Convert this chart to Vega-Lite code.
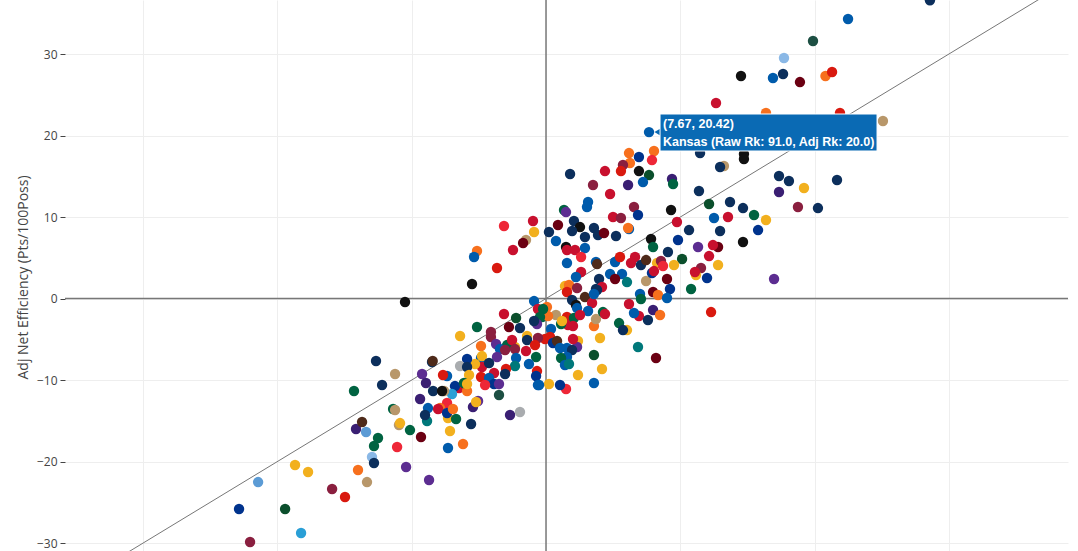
{
  "$schema": "https://vega.github.io/schema/vega-lite/v6.json",
  "description": "Raw vs adjusted net efficiency by team",
  "background": "white",
  "autosize": "none",
  "padding": {"left": 65, "top": 0, "right": 10, "bottom": 0},
  "width": 1003,
  "height": 551,
  "datasets": {
    "zero": [
      {"line": "v", "x": 0, "y": -40}, {"line": "v", "x": 0, "y": 40},
      {"line": "h", "x": -40, "y": 0}, {"line": "h", "x": 40, "y": 0}
    ],
    "diagonal": [{"x": -40, "y": -40}, {"x": 40, "y": 40}],
    "box": [{"x": 8.49, "x2": 24.65, "y": 22.64, "y2": 18.1}],
    "pointer": [{"x": 8.3, "y": 20.42}],
    "callout": [
      {"x": 8.71, "y": 21.4, "label": "(7.67, 20.42)"},
      {"x": 8.71, "y": 19.2, "label": "Kansas (Raw Rk: 91.0, Adj Rk: 20.0)"}
    ],
    "teams": [
      {"x":28.59,"y":36.6,"c":"navy"},{"x":22.49,"y":34.3,"c":"blue"},{"x":19.88,"y":31.6,"c":"dkteal"},{"x":17.72,"y":29.51,"c":"lblue"},{"x":14.52,"y":27.3,"c":"black"},{"x":16.9,"y":27.06,"c":"blue"},{"x":17.65,"y":27.55,"c":"navy"},{"x":18.91,"y":26.56,"c":"dkred"},{"x":20.81,"y":27.3,"c":"orange"},{"x":21.3,"y":27.79,"c":"red"},{"x":12.66,"y":23.99,"c":"crimson"},{"x":16.38,"y":22.76,"c":"orange"},{"x":21.89,"y":22.76,"c":"red"},{"x":25.09,"y":21.78,"c":"tan"},{"x":7.67,"y":20.42,"c":"blue"},
      {"x":8.04,"y":18.1,"c":"orange"},{"x":6.18,"y":17.85,"c":"orange"},{"x":6.92,"y":17.36,"c":"royal"},{"x":6.25,"y":16.63,"c":"orange"},{"x":5.73,"y":16.38,"c":"maroon"},{"x":5.58,"y":15.64,"c":"red"},{"x":4.39,"y":15.64,"c":"crimson"},{"x":7.89,"y":16.99,"c":"scarlet"},{"x":6.92,"y":15.64,"c":"black"},{"x":7.67,"y":15.15,"c":"dkgreen"},{"x":7.22,"y":14.29,"c":"blue"},{"x":6.11,"y":13.93,"c":"indigo"},{"x":4.77,"y":12.82,"c":"crimson"},{"x":9.38,"y":14.66,"c":"indigo"},{"x":9.46,"y":14.05,"c":"green"},{"x":11.47,"y":17.85,"c":"navy"},{"x":13.25,"y":16.26,"c":"tan"},{"x":12.96,"y":16.14,"c":"navy"},{"x":14.74,"y":17.73,"c":"black"},{"x":14.74,"y":17.12,"c":"black"},{"x":11.39,"y":13.19,"c":"navy"},{"x":17.35,"y":15.03,"c":"navy"},{"x":18.09,"y":14.42,"c":"navy"},{"x":17.35,"y":13.07,"c":"indigo"},{"x":19.21,"y":13.56,"c":"gold"},{"x":21.67,"y":14.54,"c":"navy"},{"x":1.79,"y":15.28,"c":"navy"},{"x":3.5,"y":13.93,"c":"maroon"},{"x":3.13,"y":11.84,"c":"blue"},{"x":3.05,"y":11.23,"c":"blue"},{"x":1.34,"y":10.86,"c":"green"},{"x":1.49,"y":10.61,"c":"purple"},{"x":6.55,"y":11.23,"c":"maroon"},{"x":6.85,"y":10.25,"c":"royal"},{"x":4.99,"y":10.0,"c":"crimson"},{"x":5.58,"y":9.88,"c":"maroon"},{"x":2.08,"y":9.51,"c":"navy"},{"x":0.22,"y":8.16,"c":"navy"},{"x":0.89,"y":9.02,"c":"dkred"},{"x":2.53,"y":8.77,"c":"black"},{"x":1.94,"y":8.28,"c":"navy"},{"x":3.57,"y":8.65,"c":"navy"},{"x":2.9,"y":7.55,"c":"navy"},{"x":3.87,"y":7.79,"c":"navy"},{"x":4.32,"y":8.04,"c":"dkred"},{"x":5.21,"y":7.67,"c":"navy"},{"x":6.18,"y":8.53,"c":"blue"},{"x":6.11,"y":8.65,"c":"orange"},{"x":0.74,"y":7.06,"c":"blue"},{"x":1.49,"y":6.32,"c":"black"},{"x":1.56,"y":5.95,"c":"crimson"},{"x":2.16,"y":5.95,"c":"crimson"},{"x":2.9,"y":6.2,"c":"blue"},{"x":2.61,"y":5.09,"c":"scarlet"},{"x":1.56,"y":4.36,"c":"blue"},{"x":3.72,"y":4.48,"c":"blue"},{"x":3.8,"y":4.23,"c":"brown"},{"x":5.14,"y":4.48,"c":"blue"},{"x":5.51,"y":5.09,"c":"red"},{"x":6.63,"y":5.09,"c":"crimson"},{"x":6.33,"y":4.36,"c":"crimson"},{"x":7.07,"y":4.11,"c":"navy"},{"x":7.45,"y":4.72,"c":"brown"},{"x":8.27,"y":4.36,"c":"gold"},{"x":7.82,"y":7.3,"c":"black"},{"x":7.97,"y":6.32,"c":"green"},{"x":2.61,"y":3.25,"c":"crimson"},{"x":2.23,"y":2.64,"c":"blue"},{"x":4.77,"y":3.01,"c":"blue"},{"x":5.66,"y":3.01,"c":"blue"},{"x":3.95,"y":2.39,"c":"navy"},{"x":5.14,"y":2.39,"c":"dkred"},{"x":6.03,"y":2.02,"c":"teal"},{"x":7.45,"y":2.15,"c":"tan"},{"x":7.89,"y":3.13,"c":"royal"},{"x":8.04,"y":3.37,"c":"crimson"},{"x":1.41,"y":1.53,"c":"gold"},{"x":1.71,"y":1.66,"c":"orange"},{"x":1.56,"y":0.8,"c":"red"},{"x":2.31,"y":1.29,"c":"maroon"},{"x":3.72,"y":1.17,"c":"navy"},{"x":4.17,"y":1.41,"c":"crimson"},
      {"x":12.14,"y":11.6,"c":"dkgreen"},{"x":9.31,"y":10.86,"c":"black"},{"x":13.7,"y":11.84,"c":"navy"},{"x":14.67,"y":11.1,"c":"navy"},{"x":15.49,"y":10.25,"c":"green"},{"x":16.38,"y":9.63,"c":"gold"},{"x":15.79,"y":8.4,"c":"royal"},{"x":18.76,"y":11.23,"c":"maroon"},{"x":20.25,"y":11.1,"c":"navy"},{"x":9.75,"y":9.39,"c":"crimson"},{"x":12.51,"y":9.88,"c":"blue"},{"x":13.55,"y":10.0,"c":"crimson"},{"x":12.96,"y":8.28,"c":"navy"},{"x":10.65,"y":8.4,"c":"navy"},{"x":14.67,"y":6.93,"c":"black"},{"x":9.83,"y":7.18,"c":"royal"},{"x":11.32,"y":6.32,"c":"purple"},{"x":12.81,"y":6.32,"c":"dkred"},{"x":12.43,"y":6.56,"c":"crimson"},{"x":12.14,"y":5.21,"c":"crimson"},{"x":12.81,"y":4.11,"c":"gold"},{"x":9.08,"y":5.71,"c":"navy"},{"x":10.13,"y":4.85,"c":"dkgreen"},{"x":8.56,"y":4.6,"c":"maroon"},{"x":8.71,"y":3.99,"c":"scarlet"},{"x":9.53,"y":4.11,"c":"gold"},{"x":11.54,"y":3.74,"c":"maroon"},{"x":11.17,"y":2.88,"c":"gold"},{"x":11.09,"y":3.25,"c":"crimson"},{"x":11.99,"y":2.52,"c":"royal"},{"x":9.01,"y":2.39,"c":"dkred"},{"x":9.23,"y":1.17,"c":"royal"},{"x":10.8,"y":1.17,"c":"green"},{"x":7.97,"y":0.8,"c":"dkred"},{"x":8.34,"y":0.43,"c":"orange"},{"x":9.01,"y":0.06,"c":"blue"},{"x":16.98,"y":2.39,"c":"purple"},{"x":12.29,"y":-1.66,"c":"red"},{"x":7.97,"y":-1.41,"c":"indigo"},{"x":8.49,"y":-2.02,"c":"orange"},
      {"x":0.07,"y":-1.04,"c":"orange"},{"x":0.74,"y":-2.02,"c":"tan"},{"x":-0.3,"y":-2.27,"c":"green"},{"x":0.15,"y":-2.15,"c":"orange"},{"x":1.56,"y":-2.27,"c":"red"},{"x":1.64,"y":-3.25,"c":"crimson"},{"x":2.08,"y":-2.39,"c":"green"},{"x":1.12,"y":-3.13,"c":"green"},{"x":1.19,"y":-2.76,"c":"gold"},{"x":2.01,"y":-3.37,"c":"crimson"},{"x":0.37,"y":-3.74,"c":"blue"},{"x":-0.07,"y":-4.97,"c":"red"},{"x":0.3,"y":-4.72,"c":"red"},{"x":2.38,"y":-5.21,"c":"gold"},{"x":2.31,"y":-5.95,"c":"purple"},{"x":2.01,"y":-4.97,"c":"crimson"},{"x":0.52,"y":-5.46,"c":"royal"},{"x":0.82,"y":-5.21,"c":"brown"},{"x":1.04,"y":-6.07,"c":"blue"},{"x":1.56,"y":-6.07,"c":"blue"},{"x":1.94,"y":-6.32,"c":"navy"},{"x":1.56,"y":-7.18,"c":"blue"},{"x":1.12,"y":-7.3,"c":"green"},{"x":1.41,"y":-8.16,"c":"blue"},{"x":1.71,"y":-8.04,"c":"teal"},{"x":2.38,"y":-9.39,"c":"gold"},{"x":0.22,"y":-10.49,"c":"gold"},{"x":1.49,"y":-11.1,"c":"scarlet"},{"x":1.04,"y":-10.61,"c":"royal"},{"x":-0.52,"y":-10.61,"c":"blue"},{"x":3.57,"y":-10.37,"c":"blue"},{"x":4.17,"y":-8.65,"c":"gold"},{"x":3.57,"y":-6.93,"c":"dkgreen"},{"x":4.02,"y":-4.85,"c":"gold"},{"x":3.57,"y":-3.37,"c":"orange"},{"x":3.72,"y":-2.52,"c":"tan"},{"x":4.24,"y":-1.66,"c":"green"},{"x":4.39,"y":-1.9,"c":"crimson"},{"x":6.03,"y":-3.87,"c":"gold"},{"x":5.44,"y":-3.01,"c":"green"},{"x":5.73,"y":-3.87,"c":"navy"},{"x":6.85,"y":-5.95,"c":"teal"},{"x":8.19,"y":-7.3,"c":"dkred"},{"x":6.92,"y":-2.15,"c":"crimson"},{"x":6.55,"y":-1.78,"c":"blue"},{"x":6.18,"y":-0.67,"c":"crimson"},{"x":7.0,"y":0.55,"c":"blue"},{"x":7.07,"y":-0.06,"c":"green"},{"x":7.59,"y":-2.64,"c":"navy"},{"x":2.9,"y":0.18,"c":"brown"},{"x":1.94,"y":-0.18,"c":"navy"},{"x":2.23,"y":-0.8,"c":"black"},{"x":2.31,"y":-1.17,"c":"blue"},{"x":3.43,"y":-0.55,"c":"crimson"},{"x":3.13,"y":-1.53,"c":"blue"},{"x":3.8,"y":1.04,"c":"navy"},{"x":3.57,"y":0.55,"c":"blue"},{"x":2.53,"y":-2.02,"c":"crimson"},
      {"x":-0.89,"y":-0.31,"c":"blue"},{"x":-0.6,"y":-1.29,"c":"crimson"},{"x":-0.22,"y":-1.29,"c":"green"},{"x":-0.45,"y":-2.27,"c":"green"},{"x":-3.13,"y":-1.9,"c":"crimson"},{"x":-2.23,"y":-2.39,"c":"dkgreen"},{"x":-0.67,"y":-3.13,"c":"purple"},{"x":-0.89,"y":-2.76,"c":"navy"},{"x":-2.76,"y":-3.5,"c":"dkred"},{"x":-1.94,"y":-3.62,"c":"navy"},{"x":-5.14,"y":-3.5,"c":"green"},{"x":-4.1,"y":-4.72,"c":"maroon"},{"x":-4.1,"y":-4.11,"c":"maroon"},{"x":-6.4,"y":-4.6,"c":"gold"},{"x":-4.84,"y":-5.83,"c":"orange"},{"x":-1.41,"y":-4.6,"c":"gold"},{"x":-1.41,"y":-5.09,"c":"navy"},{"x":-3.72,"y":-5.58,"c":"purple"},{"x":-2.31,"y":-5.95,"c":"gold"},{"x":-2.9,"y":-5.71,"c":"green"},{"x":-2.53,"y":-5.09,"c":"crimson"},{"x":-0.6,"y":-4.85,"c":"maroon"},{"x":-0.82,"y":-5.71,"c":"red"},{"x":-0.74,"y":-7.18,"c":"green"},{"x":-1.49,"y":-6.44,"c":"crimson"},{"x":-3.43,"y":-6.2,"c":"blue"},{"x":-3.05,"y":-6.32,"c":"maroon"},{"x":-2.31,"y":-6.2,"c":"maroon"},{"x":-2.23,"y":-7.3,"c":"blue"},{"x":-3.65,"y":-7.18,"c":"purple"},{"x":-4.84,"y":-7.3,"c":"blue"},{"x":-4.77,"y":-7.06,"c":"gold"},{"x":-4.77,"y":-8.4,"c":"crimson"},{"x":-5.29,"y":-8.04,"c":"gold"},{"x":-4.24,"y":-7.91,"c":"navy"},{"x":-5.88,"y":-7.42,"c":"royal"},{"x":-6.4,"y":-8.28,"c":"gray"},{"x":-5.88,"y":-8.4,"c":"navy"},{"x":-2.31,"y":-8.28,"c":"teal"},{"x":-2.98,"y":-8.65,"c":"red"},{"x":-3.05,"y":-9.26,"c":"navy"},{"x":-1.27,"y":-8.04,"c":"blue"},{"x":-0.67,"y":-8.9,"c":"red"},{"x":-0.74,"y":-9.51,"c":"royal"},{"x":-3.87,"y":-9.14,"c":"crimson"},{"x":-5.73,"y":-9.39,"c":"gold"},{"x":-4.84,"y":-9.63,"c":"red"},{"x":-4.24,"y":-9.75,"c":"blue"},{"x":-3.87,"y":-10.49,"c":"royal"},{"x":-4.54,"y":-10.61,"c":"scarlet"},{"x":-3.5,"y":-10.49,"c":"purple"},{"x":-6.48,"y":-10.98,"c":"crimson"},{"x":-6.78,"y":-10.74,"c":"royal"},{"x":-5.88,"y":-11.35,"c":"orange"},{"x":-6.11,"y":-10.37,"c":"green"},{"x":-5.88,"y":-10.49,"c":"gold"},{"x":-7.0,"y":-11.72,"c":"sky"},{"x":-3.5,"y":-11.84,"c":"dkteal"},{"x":-0.6,"y":-10.61,"c":"blue"},
      {"x":-7.37,"y":-9.51,"c":"blue"},{"x":-7.67,"y":-9.39,"c":"red"},{"x":-7.59,"y":-11.35,"c":"tan"},{"x":-8.41,"y":-11.35,"c":"navy"},{"x":-7.74,"y":-11.35,"c":"black"},{"x":-8.49,"y":-7.79,"c":"navy"},{"x":-8.44,"y":-7.67,"c":"brown"},{"x":-12.66,"y":-7.67,"c":"navy"},{"x":-11.24,"y":-9.26,"c":"tan"},{"x":-9.23,"y":-9.26,"c":"purple"},{"x":-8.94,"y":-10.37,"c":"indigo"},{"x":-12.21,"y":-10.61,"c":"navy"},{"x":-14.3,"y":-11.35,"c":"green"},{"x":-9.38,"y":-12.33,"c":"indigo"},{"x":-7.37,"y":-12.82,"c":"scarlet"},{"x":-8.79,"y":-13.44,"c":"blue"},{"x":-7.89,"y":-13.44,"c":"orange"},{"x":-8.04,"y":-13.56,"c":"crimson"},{"x":-7.3,"y":-14.66,"c":"gold"},{"x":-7.37,"y":-14.05,"c":"royal"},{"x":-6.93,"y":-13.56,"c":"orange"},{"x":-6.7,"y":-14.78,"c":"green"},{"x":-8.86,"y":-15.03,"c":"teal"},{"x":-9.01,"y":-14.29,"c":"navy"},{"x":-11.39,"y":-13.56,"c":"green"},{"x":-11.24,"y":-13.68,"c":"tan"},{"x":-10.95,"y":-15.52,"c":"tan"},{"x":-10.87,"y":-15.28,"c":"gold"},{"x":-10.13,"y":-16.14,"c":"green"},{"x":-9.31,"y":-16.99,"c":"dkred"},{"x":-11.09,"y":-18.22,"c":"scarlet"},{"x":-7.15,"y":-16.26,"c":"gold"},{"x":-5.58,"y":-15.4,"c":"navy"},{"x":-7.3,"y":-18.34,"c":"blue"},{"x":-6.18,"y":-17.85,"c":"orange"},{"x":-10.42,"y":-20.67,"c":"purple"},{"x":-8.71,"y":-22.27,"c":"purple"},{"x":-5.06,"y":-12.58,"c":"purple"},{"x":-5.44,"y":-13.31,"c":"indigo"},{"x":-5.21,"y":-12.7,"c":"gold"},{"x":-2.68,"y":-14.29,"c":"indigo"},{"x":-1.94,"y":-13.93,"c":"gray"},
      {"x":-13.4,"y":-16.38,"c":"steel"},{"x":-14.15,"y":-16.01,"c":"indigo"},{"x":-13.7,"y":-15.15,"c":"brown"},{"x":-12.51,"y":-17.12,"c":"green"},{"x":-12.81,"y":-18.1,"c":"green"},{"x":-12.96,"y":-19.45,"c":"lblue"},{"x":-12.81,"y":-20.18,"c":"navy"},{"x":-14.0,"y":-21.04,"c":"orange"},{"x":-13.33,"y":-22.52,"c":"tan"},{"x":-15.93,"y":-23.37,"c":"maroon"},{"x":-14.97,"y":-24.36,"c":"red"},{"x":-18.69,"y":-20.43,"c":"gold"},{"x":-17.72,"y":-21.29,"c":"gold"},{"x":-21.44,"y":-22.52,"c":"steel"},{"x":-22.86,"y":-25.83,"c":"royal"},{"x":-19.43,"y":-25.83,"c":"dkgreen"},{"x":-18.24,"y":-28.77,"c":"sky"},{"x":-22.04,"y":-29.88,"c":"maroon"},
      {"x":-10.5,"y":-0.43,"c":"black"},{"x":-5.51,"y":1.78,"c":"black"},{"x":-3.65,"y":3.74,"c":"red"},{"x":-5.14,"y":5.83,"c":"orange"},{"x":-5.36,"y":5.09,"c":"blue"},{"x":-2.46,"y":5.95,"c":"crimson"},{"x":-1.49,"y":7.18,"c":"tan"},{"x":-1.71,"y":6.81,"c":"dkred"},{"x":-3.13,"y":8.9,"c":"scarlet"},{"x":-0.97,"y":9.51,"c":"crimson"},{"x":-0.89,"y":8.16,"c":"gold"}
    ]
  },
  "encoding": {
    "x": {
      "field": "x",
      "type": "quantitative",
      "scale": {"domain": [-35.82, 38.87], "nice": false, "zero": false},
      "axis": {"values": [-30, -20, -10, 10, 20, 30], "grid": true, "gridColor": "#eee", "domain": false, "ticks": false, "labels": false, "title": null}
    },
    "y": {
      "field": "y",
      "type": "quantitative",
      "scale": {"domain": [-30.98, 36.63], "nice": false, "zero": false},
      "axis": {
        "values": [-30, -20, -10, 0, 10, 20, 30],
        "grid": true,
        "gridColor": "#eee",
        "domain": false,
        "tickColor": "#444",
        "tickSize": 5,
        "labelColor": "#444",
        "labelFont": "Open Sans",
        "labelFontSize": 12,
        "labelPadding": 3,
        "title": "Adj Net Efficiency (Pts/100Poss)",
        "titleColor": "#444",
        "titleFont": "Open Sans",
        "titleFontSize": 14,
        "titleFontWeight": "normal",
        "titleX": -35,
        "titleY": 277
      }
    }
  },
  "layer": [
    {
      "data": {"name": "zero"},
      "mark": {"type": "line", "color": "#777", "strokeWidth": 1.5, "clip": true},
      "encoding": {"detail": {"field": "line"}}
    },
    {
      "data": {"name": "diagonal"},
      "mark": {"type": "line", "color": "#777", "strokeWidth": 1, "clip": true}
    },
    {
      "data": {"name": "teams"},
      "mark": {"type": "point", "filled": true, "opacity": 1, "size": 108, "clip": true},
      "encoding": {
        "color": {
          "field": "c",
          "type": "nominal",
          "legend": null,
          "scale": {
            "domain": ["navy", "blue", "royal", "lblue", "steel", "sky", "red", "crimson", "scarlet", "maroon", "dkred", "orange", "gold", "tan", "green", "dkgreen", "dkteal", "teal", "purple", "indigo", "black", "brown", "gray"],
            "range": ["#0c2f5c", "#005bab", "#00338d", "#8ab8e6", "#5b9bd5", "#2a9fd6", "#d9190f", "#c8102e", "#ee2737", "#8a1f3f", "#6b0012", "#f7701d", "#f2b01e", "#b8976a", "#006341", "#0b4f2c", "#1d4f43", "#00787a", "#5c2d91", "#3a1f73", "#111111", "#4e2a1a", "#a9acaf"]
          }
        }
      }
    },
    {
      "data": {"name": "pointer"},
      "mark": {"type": "point", "shape": "triangle-left", "filled": true, "size": 50, "color": "#0a6ab4", "opacity": 1}
    },
    {
      "data": {"name": "box"},
      "mark": {"type": "rect", "color": "#0a6ab4", "stroke": "white", "strokeWidth": 1},
      "encoding": {"x2": {"field": "x2"}, "y2": {"field": "y2"}}
    },
    {
      "data": {"name": "callout"},
      "mark": {"type": "text", "align": "left", "baseline": "middle", "color": "white", "font": "Liberation Sans", "fontSize": 12.5, "fontWeight": "bold"},
      "encoding": {"text": {"field": "label"}}
    }
  ],
  "config": {"view": {"stroke": null}}
}
